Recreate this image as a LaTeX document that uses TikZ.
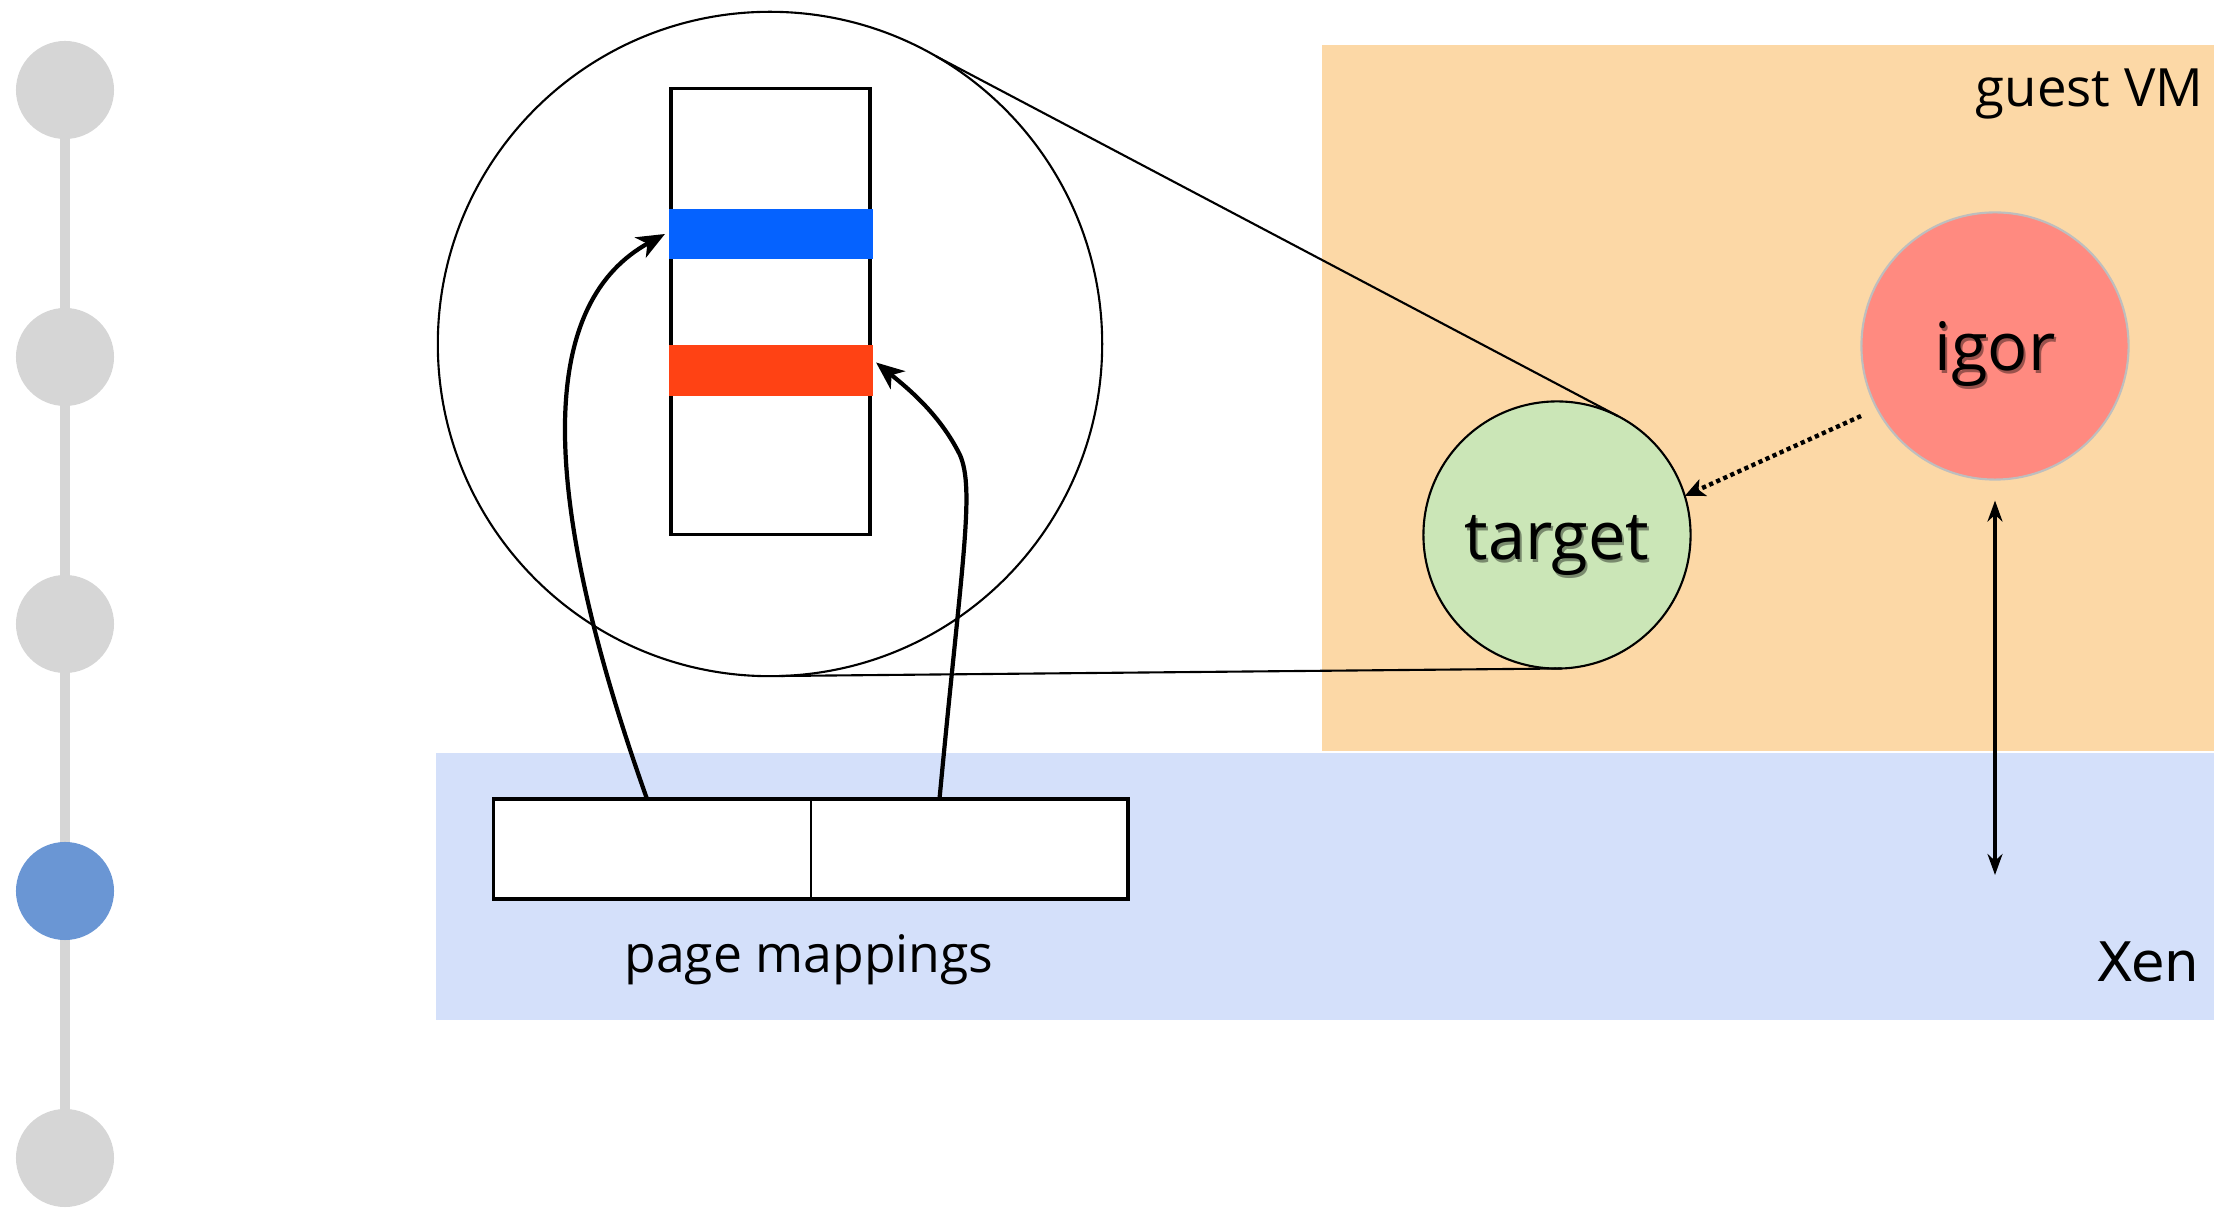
\documentclass[tikz,border=0pt]{standalone}
\usepackage{fontspec}
\setmainfont{Open Sans}
\newfontfamily\xenfont{DejaVu Sans}
\usetikzlibrary{arrows.meta,calc}

\definecolor{vmfill}{RGB}{252,216,166}
\definecolor{xenfill}{RGB}{212,224,250}
\definecolor{tgtfill}{RGB}{203,230,183}
\definecolor{igorfill}{RGB}{255,138,128}
\definecolor{igorline}{RGB}{190,190,190}
\definecolor{barblue}{RGB}{5,98,255}
\definecolor{barred}{RGB}{255,66,20}
\definecolor{stepgray}{RGB}{214,214,214}
\definecolor{stepblue}{RGB}{106,150,212}

\tikzset{
  stepdot/.style={circle, fill=stepgray, minimum size=0.98cm, inner sep=0pt, outer sep=0pt},
  curdot/.style={stepdot, fill=stepblue},
  bubble/.style={circle, minimum size=2.67cm, inner sep=0pt, outer sep=0pt, line width=0.6pt},
  bigtext/.style={font=\fontsize{19}{22}\selectfont},
  shadowtext/.style={bigtext, text=black, opacity=0.4},
  cell/.style={draw, line width=0.6pt, fill=white, minimum width=3.17cm, minimum height=1cm, inner sep=0pt, outer sep=0pt},
  bar/.style={minimum width=2.04cm, minimum height=0.5cm, inner sep=0pt, outer sep=0pt},
  zoomline/.style={line width=0.6pt},
  maparrow/.style={line width=1.2pt, -{Stealth[length=0.28cm, width=0.23cm, inset=0.08cm]}},
  hyper/.style={line width=0.95pt, {Stealth[length=0.21cm, width=0.15cm]}-{Stealth[length=0.21cm, width=0.15cm]}},
  probe/.style={line width=1.25pt, dash pattern=on 1.2pt off 1pt, -{Stealth[length=0.2cm, width=0.18cm, inset=0.05cm]}}
}

\begin{document}
\begin{tikzpicture}[x=0.01cm, y=-0.01cm]
\useasboundingbox (0,0) rectangle (2214,1210);

% layers: guest VM and hypervisor
\fill[vmfill] (1322,45) rectangle (2214,751);
\fill[xenfill] (436,753) rectangle (2214,1020);
\node[anchor=base east, inner sep=0pt, font=\fontsize{15}{18}\selectfont] (vmlabel) at (2204,107) {guest VM};
\node[anchor=base east, inner sep=0pt, font=\xenfont\fontsize{15.5}{18}\selectfont] (xenlabel) at (2200,982) {Xen};

% progress track on the left
\draw[stepgray, line width=3.1pt] (65,90) -- (65,1158);
\node[stepdot] (s1) at (65,90) {};
\node[stepdot] (s2) at (65,357) {};
\node[stepdot] (s3) at (65,624) {};
\node[curdot]  (s4) at (65,891) {};
\node[stepdot] (s5) at (65,1158) {};

% magnified view of the target's memory
\node[circle, draw, line width=0.6pt, minimum size=6.64cm, inner sep=0pt, outer sep=0pt] (zoomc) at (770,344) {};
\node[draw, line width=0.9pt, minimum width=1.99cm, minimum height=4.45cm, inner sep=0pt, outer sep=0pt] (mem) at (770.5,311.5) {};
\node[bar, fill=barblue] (blue) at (771,234) {};
\node[bar, fill=barred] (red) at (771,370.5) {};

% page mappings in the hypervisor
\node[cell] (cellA) at (652,849) {};
\node[cell] (cellB) at (969.5,849) {};
\draw[line width=1pt] (cellA.north west) rectangle (cellB.south east);
\node[font=\fontsize{14.7}{18}\selectfont] (maplabel) at (809,960) {page mappings};

% lines tying the magnified view to the target
\node[bubble, draw, fill=tgtfill] (target) at (1557,535) {};
\draw[zoomline] (zoomc.60) -- (target.63);
\draw[zoomline] (zoomc.-88) -- (target.-88);

% processes
\node[bubble, draw=igorline, fill=igorfill] (igor) at (1995,346) {};
\coordinate (tgttext) at ($(target)+(0,11)$);
\coordinate (igortext) at ($(igor)+(0,8)$);
\node[shadowtext] at ($(tgttext)+(2,3)$) {target};
\node[bigtext] (tgtlabel) at (tgttext) {target};
\node[shadowtext] at ($(igortext)+(2,3)$) {igor};
\node[bigtext] (igorlabel) at (igortext) {igor};

% mapping arrows into memory
\draw[maparrow] ($(cellA.north)+(-5,0)$) .. controls (530,470) and (545,300) .. ($(blue.west)+(-4,0)$);
\draw[maparrow] ($(cellB.north)+(-30,0)$) .. controls (962,560) and (975,490) .. (960,455)
  .. controls (940,415) and (910,390) .. ($(red.east)+(3,-8)$);

% igor probes the target
\coordinate (probestart) at ($(igor.center)+(-134,70)$);
\draw[probe] (probestart) -- (target.17);

% igor talks to the hypervisor
\coordinate (hyperend) at (1995,875);
\draw[hyper] ($(igor.south)+(0,21)$) -- (hyperend);
\end{tikzpicture}
\end{document}
